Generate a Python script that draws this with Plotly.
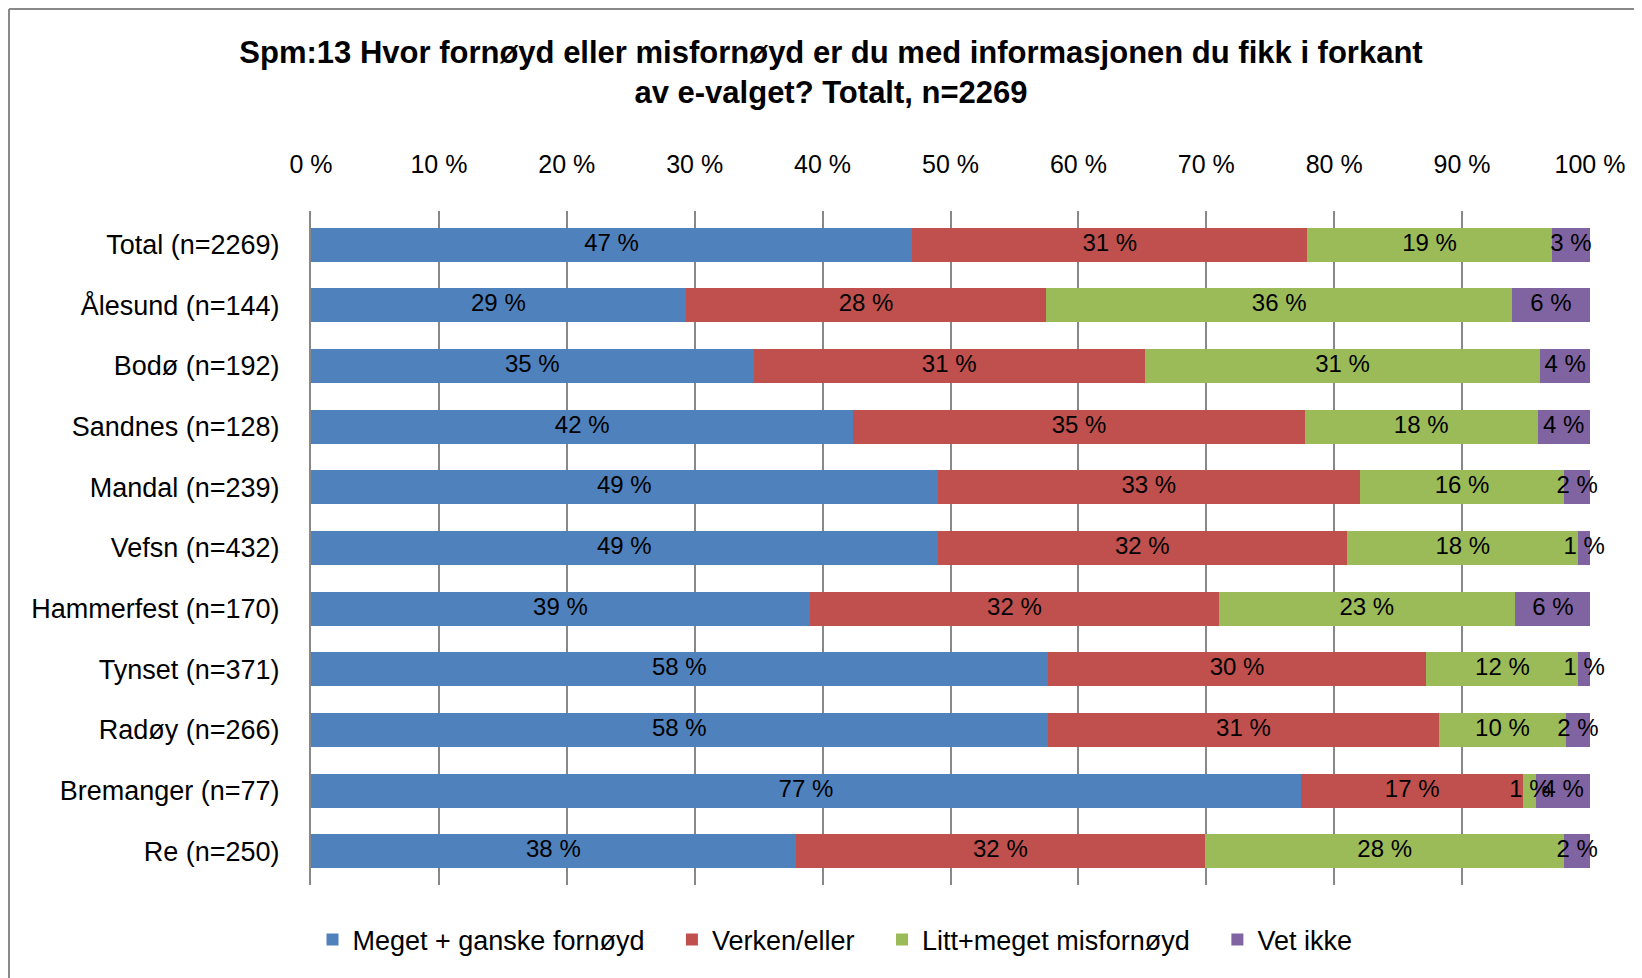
import plotly.graph_objects as go

categories = ["Total (n=2269)", "Ålesund (n=144)", "Bodø (n=192)", "Sandnes (n=128)",
              "Mandal (n=239)", "Vefsn (n=432)", "Hammerfest (n=170)", "Tynset (n=371)",
              "Radøy (n=266)", "Bremanger (n=77)", "Re (n=250)"]

series_names = ["Meget + ganske fornøyd", "Verken/eller", "Litt+meget misfornøyd", "Vet ikke"]

fornoyd =     [47.0, 29.3, 34.6, 42.4, 49.0, 49.0, 39.0, 57.6, 57.6, 77.4, 37.9]
verken =      [30.9, 28.2, 30.6, 35.3, 33.0, 32.0, 32.0, 29.6, 30.6, 17.4, 32.0]
misfornoyd =  [19.1, 36.4, 30.9, 18.2, 16.0, 18.1, 23.1, 11.9,  9.9,  1.0, 28.1]
vet_ikke =    [ 3.0,  6.1,  3.9,  4.1,  2.0,  0.9,  6.0,  0.9,  1.9,  4.2,  2.0]

tick_vals = [0, 10, 20, 30, 40, 50, 60, 70, 80, 90, 100]
tick_text = ["0 %", "10 %", "20 %", "30 %", "40 %", "50 %", "60 %", "70 %", "80 %", "90 %", "100 %"]

colors = ["#4F81BD", "#C0504D", "#9BBB59", "#8064A2"]

FONT = "Liberation Sans, Arial, sans-serif"
NBSP = "\u00a0"

all_series = [fornoyd, verken, misfornoyd, vet_ikke]

fig = go.Figure()
# stacked bars
for i, (name, vals, col) in enumerate(zip(series_names, all_series, colors)):
    legend_name = name + (NBSP * 3 if i < len(series_names) - 1 else "")
    fig.add_trace(go.Bar(
        y=categories, x=vals, name=legend_name, orientation="h",
        marker=dict(color=col, line=dict(width=0)),
        hovertemplate=name + ": %{x:.1f} %<extra>%{y}</extra>",
    ))

# data labels on top of all bars, centred in each segment
base = [0.0] * len(categories)
for name, vals in zip(series_names, all_series):
    mids = [b + v / 2 for b, v in zip(base, vals)]
    fig.add_trace(go.Scatter(
        y=categories, x=mids, mode="text",
        text=[f"{v:.0f} %" for v in vals],
        textposition="middle center",
        textfont=dict(family=FONT, size=24, color="black"),
        showlegend=False, hoverinfo="skip", cliponaxis=False,
    ))
    base = [b + v for b, v in zip(base, vals)]

W, H = 1642, 978
OFF = 8  # page body margin
L = 311 - OFF
T = 211 - OFF
R = W - (1590 - OFF)
B = H - (885 - OFF)
pw, ph = W - L - R, H - T - B

def px(x):
    return (x - OFF - L) / pw

def py(y):
    return (H - B - (y - OFF)) / ph

fig.update_layout(
    width=W, height=H,
    barmode="stack", bargap=0.44,
    margin=dict(l=L, r=R, t=T, b=B, autoexpand=False),
    paper_bgcolor="white", plot_bgcolor="white",
    font=dict(family=FONT, color="black"),
    title=dict(text="Spm:13 Hvor fornøyd eller misfornøyd er du med informasjonen du fikk i forkant<br>av e-valget? Totalt, n=2269",
               x=(831 - OFF) / W, xref="container", xanchor="center",
               y=1 - (63 - OFF) / H, yref="container", yanchor="middle",
               font=dict(family=FONT, size=31, weight="bold", color="black")),
    xaxis=dict(range=[0, 100], side="top", tickvals=tick_vals, ticktext=tick_text,
               showgrid=True, gridcolor="#888888", gridwidth=1.5, zeroline=False,
               showline=False, ticks="", tickfont=dict(family=FONT, size=25),
               ticklabelstandoff=32, automargin=False, fixedrange=True),
    yaxis=dict(autorange="reversed", showline=True, linecolor="#888888", linewidth=2,
               showgrid=False, ticks="", tickfont=dict(family=FONT, size=27),
               ticklabelstandoff=24, automargin=False),
    legend=dict(orientation="h", x=px(835), xanchor="center", y=py(940), yanchor="middle",
                font=dict(family=FONT, size=27), traceorder="normal"),
    showlegend=True,
    shapes=[
        dict(type="line", xref="paper", yref="paper", x0=px(9), x1=px(W + OFF), y0=py(9), y1=py(9),
             line=dict(color="#898989", width=2)),
        dict(type="line", xref="paper", yref="paper", x0=px(9), x1=px(9), y0=py(9), y1=py(H + OFF),
             line=dict(color="#898989", width=2)),
    ],
)

fig.write_html("out.html")
